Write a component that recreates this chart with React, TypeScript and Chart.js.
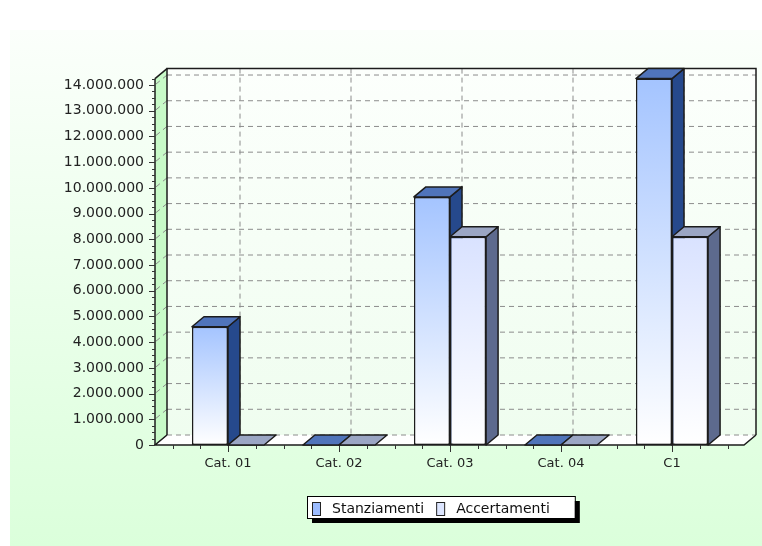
import React, { useEffect, useRef } from 'react';
import { Chart, registerables } from 'chart.js';

Chart.register(...registerables);

// ---- data ----
const categories = ['Cat. 01', 'Cat. 02', 'Cat. 03', 'Cat. 04', 'C1'];
const stanziamenti = [4600000, 0, 9650000, 0, 14250000];
const accertamenti = [0, 0, 8100000, 0, 8100000];
const seriesNames = ['Stanziamenti', 'Accertamenti'];
const yTicks = [0, 1000000, 2000000, 3000000, 4000000, 5000000, 6000000, 7000000, 8000000, 9000000, 10000000, 11000000, 12000000, 13000000, 14000000];
const yMax = 14250000;
const yStep = 1000000;

// ---- style ----
const DX = 12;
const DY = -10;
const FONT = '"DejaVu Sans", sans-serif';
const EDGE = '#1c1c1c';
const palette = [
  { top: '#a4c4ff', bottom: '#ffffff', side: '#26498c', cap: '#5074ba', swatch: '#9cbcff' },
  { top: '#d9e2ff', bottom: '#ffffff', side: '#5d6a8e', cap: '#9ba6c4', swatch: '#dde6ff' },
];

const fmt = (v: number) => Math.round(v).toString().replace(/\B(?=(\d{3})+(?!\d))/g, '.');

function poly(ctx: CanvasRenderingContext2D, pts: number[][], fill: string | CanvasGradient | null, stroke: string | null, lw = 1.5) {
  ctx.beginPath();
  ctx.moveTo(pts[0][0], pts[0][1]);
  for (let i = 1; i < pts.length; i++) ctx.lineTo(pts[i][0], pts[i][1]);
  ctx.closePath();
  if (fill) { ctx.fillStyle = fill; ctx.fill(); }
  if (stroke) { ctx.strokeStyle = stroke; ctx.lineWidth = lw; ctx.stroke(); }
}

function line(ctx: CanvasRenderingContext2D, x1: number, y1: number, x2: number, y2: number) {
  ctx.beginPath();
  ctx.moveTo(x1, y1);
  ctx.lineTo(x2, y2);
  ctx.stroke();
}

const threeD = {
  id: 'threeD',
  beforeDraw(chart: any) {
    const { ctx, chartArea: ca } = chart;
    const xs = chart.scales.x;
    const ys = chart.scales.y;
    const W = chart.width;
    const H = chart.height;
    ctx.save();
    ctx.fillStyle = '#ffffff';
    ctx.fillRect(0, 0, W, H);
    const bg = ctx.createLinearGradient(0, 30, 0, H);
    bg.addColorStop(0, '#fbfffb');
    bg.addColorStop(1, '#dbffdb');
    ctx.fillStyle = bg;
    ctx.fillRect(10, 30, W - 10, H - 30);

    const fl = ca.left - 17.5;
    const fr = ca.right + 16.5;
    const top = ca.top;
    const bot = ca.bottom;

    const wg = ctx.createLinearGradient(0, top + DY, 0, bot + DY);
    wg.addColorStop(0, '#fcfffc');
    wg.addColorStop(1, '#effdef');
    ctx.fillStyle = wg;
    ctx.fillRect(fl + DX, top + DY, fr - fl, bot - top);

    poly(ctx, [[fl, bot], [fl, top], [fl + DX, top + DY], [fl + DX, bot + DY]], '#c8fac8', null);
    poly(ctx, [[fl, bot], [fr, bot], [fr + DX, bot + DY], [fl + DX, bot + DY]], '#ffffff', null);

    ctx.strokeStyle = '#8c8c8c';
    ctx.lineWidth = 1;
    ctx.setLineDash([5, 4]);
    ys.ticks.forEach((t: any) => {
      const py = ys.getPixelForValue(t.value);
      line(ctx, fl + DX, py + DY, fr + DX, py + DY);
      line(ctx, fl + 1, py - 1, fl + DX, py + DY);
    });
    categories.forEach((_, i) => {
      const px = xs.getPixelForValue(i) + DX;
      line(ctx, px, top + DY, px, bot + DY);
    });
    ctx.setLineDash([]);

    ctx.strokeStyle = EDGE;
    ctx.lineWidth = 1.5;
    ctx.beginPath();
    ctx.moveTo(fl + DX, bot + DY);
    ctx.lineTo(fl + DX, top + DY);
    ctx.lineTo(fr + DX, top + DY);
    ctx.lineTo(fr + DX, bot + DY);
    ctx.stroke();
    line(ctx, fl, top, fl + DX, top + DY);
    line(ctx, fl, bot, fl, top);
    ctx.beginPath();
    ctx.moveTo(fl + DX, bot + DY);
    ctx.lineTo(fl, bot);
    ctx.lineTo(fr, bot);
    ctx.lineTo(fr + DX, bot + DY);
    ctx.stroke();

    ctx.lineWidth = 1;
    ctx.strokeStyle = '#333';
    for (let v = 0; v <= yMax + 1; v += yStep / 4) {
      const py = Math.round(ys.getPixelForValue(v)) + 0.5;
      const major = Math.abs(v / yStep - Math.round(v / yStep)) < 1e-6;
      line(ctx, fl - (major ? 6 : 3), py, fl, py);
    }
    const n = categories.length;
    const cw = (ca.right - ca.left) / n;
    for (let i = 0; i < n; i++) {
      for (let k = 0; k < 4; k++) {
        const px = Math.round(ca.left + (i + k / 4) * cw) + 0.5;
        line(ctx, px, bot, px, bot + (k === 2 ? 7 : 4));
      }
    }
    const pr = Math.round(ca.right) + 0.5;
    line(ctx, pr, bot, pr, bot + 4);
    ctx.restore();
  },
  afterDatasetsDraw(chart: any) {
    const { ctx } = chart;
    const metas = [chart.getDatasetMeta(0), chart.getDatasetMeta(1)];
    ctx.save();
    ctx.lineJoin = 'round';
    categories.forEach((_, i) => {
      metas.forEach((meta: any, d: number) => {
        const el = meta.data[i];
        if (!el) return;
        const { x, y, base, width } = el.getProps(['x', 'y', 'base', 'width'], true);
        const l = x - width / 2;
        const r = x + width / 2;
        if (base - y > 0.5) {
          poly(ctx, [[r, y], [r + DX, y + DY], [r + DX, base + DY], [r, base]], palette[d].side, EDGE);
        }
        poly(ctx, [[l, y], [l + DX, y + DY], [r + DX, y + DY], [r, y]], palette[d].cap, EDGE);
        if (base - y > 0.5) el.draw(ctx);
      });
    });
    ctx.restore();
  },
  afterDraw(chart: any) {
    const { ctx, chartArea: ca } = chart;
    ctx.save();
    ctx.font = `14px ${FONT}`;
    const names = chart.data.datasets.map((ds: any) => ds.label as string);
    const widths = names.map((t: string) => ctx.measureText(t).width);
    const padL = 5, sw = 8, gapText = 12, gapItem = 12, padR = 25;
    const bw = padL + (sw + gapText) * names.length + widths.reduce((a: number, b: number) => a + b, 0) + gapItem * (names.length - 1) + padR;
    const bh = 22;
    const cx = ca.left + (ca.right - ca.left) * 0.483;
    const bx = Math.round(cx - bw / 2);
    const by = Math.round(ca.bottom + 51);
    ctx.fillStyle = '#000';
    ctx.fillRect(bx + 5, by + 5, bw, bh);
    ctx.fillStyle = '#fff';
    ctx.fillRect(bx, by, bw, bh);
    ctx.strokeStyle = '#000';
    ctx.lineWidth = 1;
    ctx.strokeRect(bx + 0.5, by + 0.5, bw, bh);
    let px = bx + padL;
    const midY = by + bh / 2 + 2;
    names.forEach((t: string, d: number) => {
      ctx.fillStyle = palette[d].swatch;
      ctx.fillRect(px, midY - 7, sw, 13);
      ctx.strokeStyle = '#222';
      ctx.strokeRect(px + 0.5, midY - 6.5, sw, 13);
      px += sw + gapText;
      ctx.fillStyle = '#111';
      ctx.textBaseline = 'middle';
      ctx.textAlign = 'left';
      ctx.fillText(t, px, midY);
      px += widths[d] + gapItem;
    });
    ctx.restore();
  },
};

function frontColor(d: number) {
  return (c: any) => {
    const chart = c.chart;
    const ys = chart.scales && chart.scales.y;
    if (!ys || c.type !== 'data' || !c.parsed) return palette[d].top;
    const t = ys.getPixelForValue(c.parsed.y);
    const b = ys.getPixelForValue(0);
    if (!isFinite(t) || !isFinite(b) || b - t < 1) return palette[d].top;
    const g = chart.ctx.createLinearGradient(0, t, 0, b);
    g.addColorStop(0, palette[d].top);
    g.addColorStop(1, palette[d].bottom);
    return g;
  };
}

export default function App() {
  const ref = useRef<HTMLCanvasElement>(null);
  useEffect(() => {
    document.body.style.margin = '0';
    const chart = new Chart(ref.current as HTMLCanvasElement, {
      type: 'bar',
      data: {
        labels: categories,
        datasets: [
          { label: seriesNames[0], data: stanziamenti, backgroundColor: frontColor(0), borderColor: EDGE, borderWidth: 1.5, borderSkipped: false },
          { label: seriesNames[1], data: accertamenti, backgroundColor: frontColor(1), borderColor: EDGE, borderWidth: 1.5, borderSkipped: false },
        ],
      },
      options: {
        responsive: false,
        animation: false,
        devicePixelRatio: 1,
        events: [],
        categoryPercentage: 0.65,
        barPercentage: 1,
        layout: { padding: { left: 0, right: 34.5, top: 78.6, bottom: 66 } },
        plugins: { legend: { display: false }, tooltip: { enabled: false } },
        scales: {
          x: {
            offset: true,
            grid: { display: false, drawTicks: false },
            border: { display: false },
            ticks: { font: { family: FONT, size: 13 }, color: '#222', padding: 11, maxRotation: 0 },
            afterFit: (s: any) => { s.height = 35; },
          },
          y: {
            min: 0,
            max: yMax,
            grid: { display: false, drawTicks: false },
            border: { display: false },
            afterBuildTicks: (s: any) => { s.ticks = yTicks.map((v) => ({ value: v })); },
            ticks: {
              autoSkip: false,
              font: { family: FONT, size: 14 },
              color: '#222',
              padding: 28.5,
              callback: (v: any) => fmt(Number(v)),
            },
            afterFit: (s: any) => { s.width = 172.5; },
          },
        },
      } as any,
      plugins: [threeD],
    });
    return () => chart.destroy();
  }, []);
  return (
    <div style={{ position: 'relative', width: 762, height: 546 }}>
      <canvas ref={ref} width={762} height={546} style={{ display: 'block' }} />
    </div>
  );
}
